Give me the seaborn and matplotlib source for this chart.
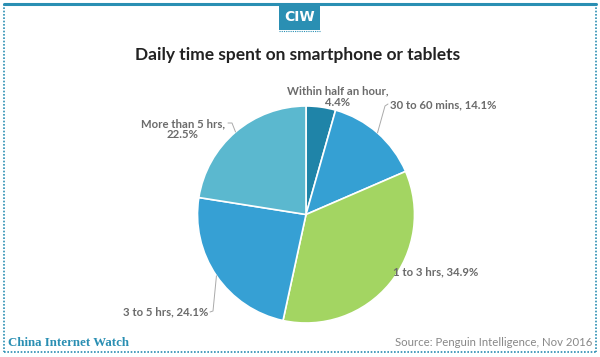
import matplotlib.pyplot as plt
import numpy as np
import seaborn as sb
from matplotlib.patches import Rectangle
from matplotlib.lines import Line2D

sb.set_theme(style="white")
plt.rcParams['font.family'] = ['Lato', 'DejaVu Sans']

# date
categorii = ["Within half an hour", "30 to 60 mins", "1 to 3 hrs", "3 to 5 hrs", "More than 5 hrs"]
procente = [4.4, 14.1, 34.9, 24.1, 22.5]
culori = ["#1f84a8", "#35a0d3", "#a3d562", "#36a0d4", "#5bb8cf"]
etichete = ["Within half an hour,\n4.4%", "30 to 60 mins, 14.1%", "1 to 3 hrs, 34.9%",
            "3 to 5 hrs, 24.1%", "More than 5 hrs,\n22.5%"]

TEAL = "#2a8fb3"
GRI = "#6b6b6b"

fig = plt.figure(figsize=(6, 3.57), dpi=100)
fig.patch.set_facecolor("white")

# chenar
fig.add_artist(Line2D([0.006, 0.994], [0.988, 0.988], color=TEAL, lw=2.2, transform=fig.transFigure))
fig.add_artist(Line2D([0.006, 0.006], [0.988, 0.014], color=TEAL, lw=1.2, ls=(0, (1, 1)), transform=fig.transFigure))
fig.add_artist(Line2D([0.994, 0.994], [0.988, 0.014], color=TEAL, lw=1.2, ls=(0, (1, 1)), transform=fig.transFigure))
fig.add_artist(Line2D([0.006, 0.994], [0.014, 0.014], color=TEAL, lw=1.2, ls=(0, (1, 1)), transform=fig.transFigure))

# logo CIW
fig.add_artist(Rectangle((279 / 600, 1 - 30 / 357), 41 / 600, 27 / 357, facecolor=TEAL,
                         edgecolor="none", transform=fig.transFigure))
fig.add_artist(Line2D([279 / 600, 320 / 600], [1 - 31 / 357, 1 - 31 / 357], color=TEAL, lw=0.8,
                      ls=(0, (1, 1)), transform=fig.transFigure))
fig.text(299.5 / 600, 1 - 17 / 357, "CIW", color="white", fontsize=10, fontweight="black",
         ha="center", va="center", family=["DejaVu Sans"])

fig.text(298 / 600, 1 - 55 / 357, "Daily time spent on smartphone or tablets", fontsize=12.5,
         fontweight="bold", color="#222222", ha="center", va="center")

# pie
r_px = 108.5
cx, cy = 306, 214.5
ax = fig.add_axes([(cx - r_px) / 600, (357 - cy - r_px) / 357, 2 * r_px / 600, 2 * r_px / 357])
wedges, _ = ax.pie(procente, colors=culori, startangle=90, counterclock=False, radius=1,
                   wedgeprops=dict(edgecolor="white", linewidth=1.2))
ax.set_xlim(-1, 1)
ax.set_ylim(-1, 1)
ax.axis("off")


def px(x, y):
    return ((x - cx) / r_px, (cy - y) / r_px)


pozitii = [px(338, 96.5), px(390, 105), px(393, 272), px(208, 312), px(183, 129)]
aliniere = ["center", "left", "left", "right", "center"]
# colturile liniilor de legatura (None = fara linie)
cot = [None, [px(385, 106), px(388, 104)], None,
       [px(213, 311), px(210, 312)], [px(232, 123), px(228, 123)]]

for w, et, poz, al, c in zip(wedges, etichete, pozitii, aliniere, cot):
    ax.text(poz[0], poz[1], et, ha=al, va="center", fontsize=8.2, fontweight="bold",
            color=GRI, linespacing=1.0)
    if c is not None:
        unghi = np.deg2rad((w.theta1 + w.theta2) / 2)
        xs = [np.cos(unghi)] + [p[0] for p in c]
        ys = [np.sin(unghi)] + [p[1] for p in c]
        ax.plot(xs, ys, color="#aaaaaa", lw=0.7, clip_on=False)

# subsol
fig.text(8 / 600, 1 - 343 / 357, "China Internet Watch", fontsize=9.3, fontweight="bold",
         color=TEAL, family=["Liberation Serif"], ha="left", va="center")
fig.text(592 / 600, 1 - 343 / 357, "Source: Penguin Intelligence, Nov 2016", fontsize=8.2,
         color="#888888", ha="right", va="center")

plt.savefig("out.png", dpi=100)
